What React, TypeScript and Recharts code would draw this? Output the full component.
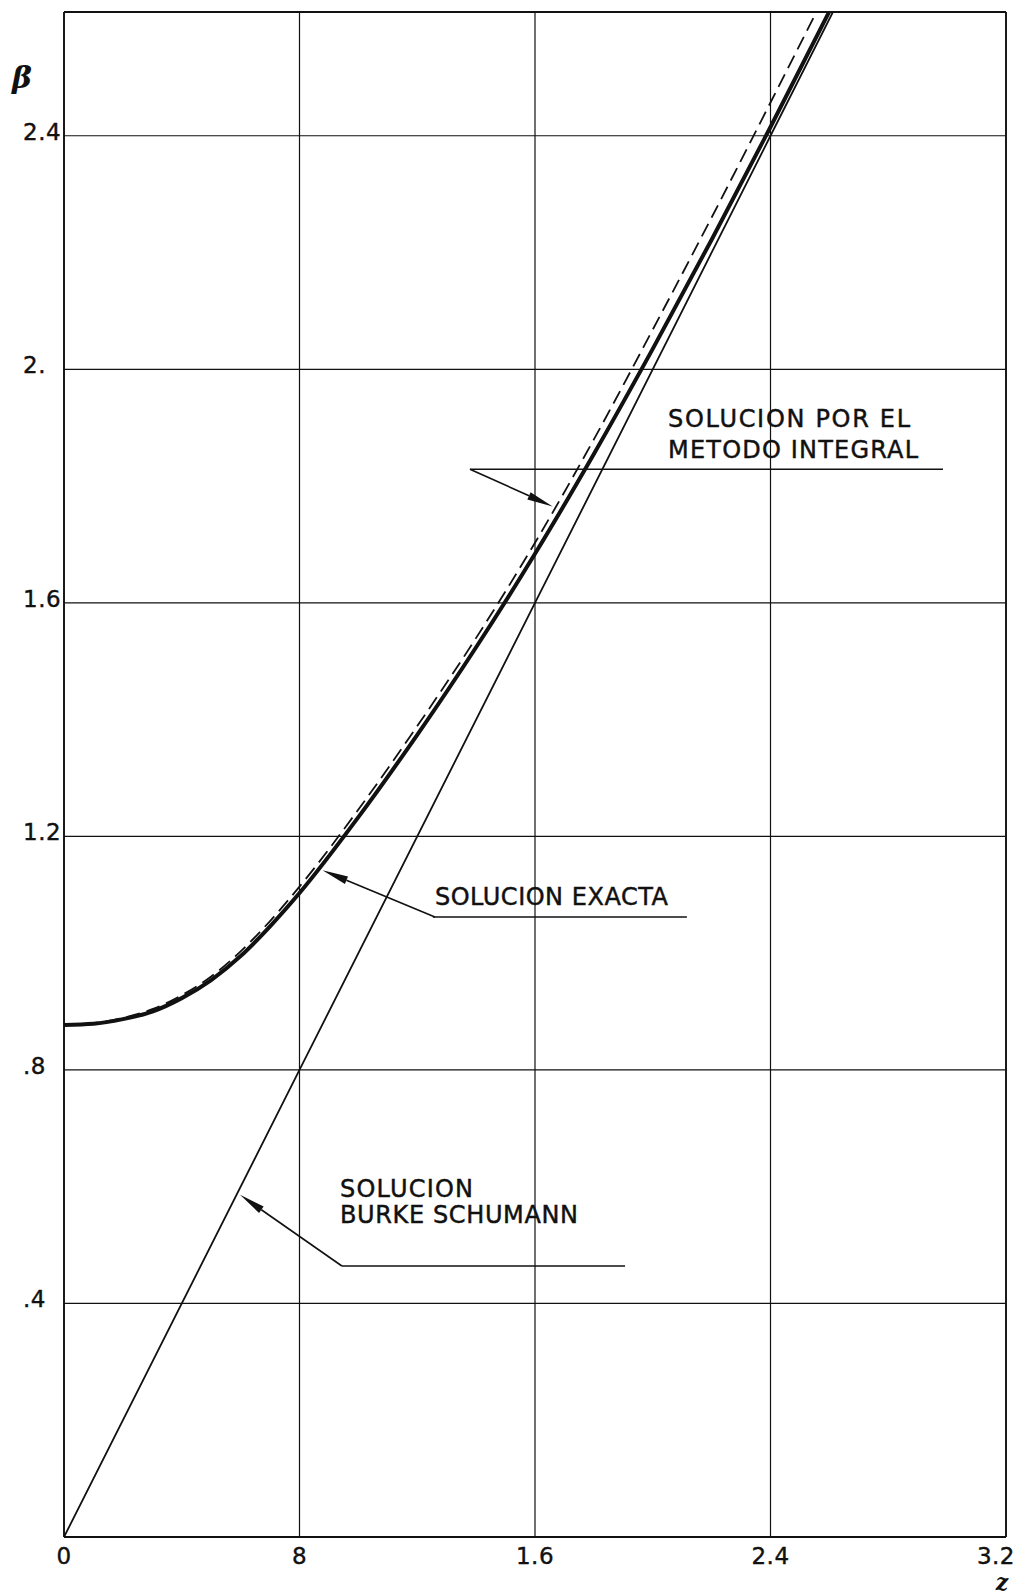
import React from 'react';
import {
  LineChart,
  Line,
  XAxis,
  YAxis,
  CartesianGrid,
  ReferenceLine,
  ReferenceDot,
} from 'recharts';

// ---- axis ticks ----
const xTicks = [0, 0.8, 1.6, 2.4, 3.2];
const xTickLabels = ['0', '8', '1.6', '2.4', '3.2'];
const yTicks = [0.4, 0.8, 1.2, 1.6, 2.0, 2.4];
const yTickLabels = ['.4', '.8', '1.2', '1.6', '2.', '2.4'];
const Z_MAX = 3.2;
const BETA_MAX = 2.612;

// ---- series: SOLUCION EXACTA (thick) ----
const exactZ = [0, 0.1, 0.2, 0.3, 0.4, 0.5, 0.6, 0.7, 0.8, 1.0, 1.2, 1.4, 1.6, 1.8, 2.0, 2.2, 2.4, 2.6];
const exactBeta = [0.877, 0.879, 0.887, 0.9, 0.923, 0.954, 0.995, 1.046, 1.103, 1.233, 1.374, 1.524, 1.684, 1.855, 2.035, 2.222, 2.415, 2.613];

// ---- series: SOLUCION POR EL METODO INTEGRAL (dashed) ----
const integralZ = [0, 0.1, 0.2, 0.3, 0.4, 0.5, 0.6, 0.7, 0.8, 1.0, 1.2, 1.4, 1.6, 1.8, 2.0, 2.2, 2.4, 2.556];
const integralBeta = [0.877, 0.88, 0.889, 0.904, 0.928, 0.96, 1.003, 1.055, 1.114, 1.246, 1.389, 1.54, 1.703, 1.88, 2.068, 2.26, 2.457, 2.612];

// ---- series: SOLUCION BURKE SCHUMANN (thin) ----
const burkeZ = [0, 0.8, 1.6, 2.4, 2.612];
const burkeBeta = [0, 0.8, 1.6, 2.4, 2.612];

const toRows = (zs: number[], bs: number[]) => zs.map((z, i) => ({ z, beta: bs[i] }));
const exactData = toRows(exactZ, exactBeta);
const integralData = toRows(integralZ, integralBeta);
const burkeData = toRows(burkeZ, burkeBeta);

// ---- annotations (data coordinates) ----
const integralNote = {
  lines: ['SOLUCION POR EL', 'METODO INTEGRAL'],
  textZ: 2.052,
  textBeta: [1.901, 1.848],
  textLen: [242, 250],
  rule: [1.379, 2.986, 1.829],
  arrow: [1.379, 1.829, 1.66, 1.765],
};
const exactNote = {
  lines: ['SOLUCION EXACTA'],
  textZ: 1.26,
  textBeta: [1.0825],
  textLen: [233],
  rule: [1.253, 2.116, 1.062],
  arrow: [1.26, 1.062, 0.878, 1.142],
};
const burkeNote = {
  lines: ['SOLUCION', 'BURKE SCHUMANN'],
  textZ: 0.9375,
  textBeta: [0.5824, 0.5378],
  textLen: [133, 238],
  rule: [0.944, 1.906, 0.4642],
  arrow: [0.944, 0.4642, 0.598, 0.586],
};
const notes = [integralNote, exactNote, burkeNote];

const INK = '#111';
const FONT = '"DejaVu Sans", Verdana, sans-serif';

const XTick = (props: any) => {
  const { x, payload } = props;
  const i = xTicks.indexOf(payload.value);
  const last = i === xTicks.length - 1;
  return (
    <text
      x={last ? x + 9 : x}
      y={1556}
      textAnchor={last ? 'end' : 'middle'}
      fontFamily={FONT}
      fontSize={23}
      letterSpacing={0.5}
      fill={INK}
      stroke={INK}
      strokeWidth={0.4}
    >
      {xTickLabels[i]}
    </text>
  );
};

const YTick = (props: any) => {
  const { y, payload } = props;
  const i = yTicks.findIndex((t) => Math.abs(t - payload.value) < 1e-6);
  return (
    <text
      x={15}
      y={y + 4}
      textAnchor="start"
      fontFamily={FONT}
      fontSize={23}
      letterSpacing={0.5}
      fill={INK}
      stroke={INK}
      strokeWidth={0.4}
    >
      {yTickLabels[i]}
    </text>
  );
};

const ArrowShape = (props: any) => {
  const { x1, y1, x2, y2 } = props;
  const dx = x2 - x1;
  const dy = y2 - y1;
  const len = Math.sqrt(dx * dx + dy * dy) || 1;
  const ux = dx / len;
  const uy = dy / len;
  const L = 26;
  const W = 4;
  const bx = x2 - ux * L;
  const by = y2 - uy * L;
  const px = -uy;
  const py = ux;
  return (
    <g>
      <line x1={x1} y1={y1} x2={bx} y2={by} stroke={INK} strokeWidth={1.6} />
      <polygon
        points={`${x2},${y2} ${bx + px * W},${by + py * W} ${bx - px * W},${by - py * W}`}
        fill={INK}
      />
    </g>
  );
};

const makeTextShape = (text: string, len: number) => (props: any) => (
  <text
    x={props.cx}
    y={props.cy}
    fontFamily={FONT}
    fontSize={24}
    textLength={len}
    lengthAdjust="spacing"
    fill={INK}
    stroke={INK}
    strokeWidth={0.45}
  >
    {text}
  </text>
);

export default function App() {
  return (
    <div style={{ width: 1013, height: 1586, background: '#fff' }}>
      <LineChart
        width={1013}
        height={1586}
        margin={{ top: 4, right: 15, bottom: 0, left: 0 }}
      >
        <CartesianGrid stroke={INK} strokeWidth={1.2} horizontal vertical />
        <XAxis
          dataKey="z"
          type="number"
          domain={[0, Z_MAX]}
          ticks={xTicks}
          interval={0}
          allowDataOverflow
          height={57}
          tickLine={false}
          axisLine={{ stroke: INK, strokeWidth: 1.8 }}
          tick={<XTick />}
          label={{
            content: () => (
              <text x={994} y={1582} textAnchor="middle" fontFamily='"DejaVu Serif", serif' fontStyle="italic" fontWeight="bold" fontSize={22} fill={INK}>
                z
              </text>
            ),
          }}
        />
        <YAxis
          dataKey="beta"
          type="number"
          domain={[0, BETA_MAX]}
          ticks={yTicks}
          interval={0}
          allowDataOverflow
          width={56}
          tickLine={false}
          axisLine={{ stroke: INK, strokeWidth: 1.8 }}
          tick={<YTick />}
          label={{
            content: () => (
              <text x={4} y={80} fontFamily='"DejaVu Serif", serif' fontStyle="italic" fontWeight="bold" fontSize={30} fill={INK}>
                β
              </text>
            ),
          }}
        />
        <ReferenceLine y={BETA_MAX} stroke={INK} strokeWidth={1.8} />
        <ReferenceLine x={Z_MAX} stroke={INK} strokeWidth={1.8} />

        <Line
          data={burkeData}
          dataKey="beta"
          type="linear"
          stroke={INK}
          strokeWidth={1.8}
          dot={false}
          activeDot={false}
          isAnimationActive={false}
        />
        <Line
          data={integralData}
          dataKey="beta"
          type="monotone"
          stroke={INK}
          strokeWidth={1.8}
          strokeDasharray="14 7"
          dot={false}
          activeDot={false}
          isAnimationActive={false}
        />
        <Line
          data={exactData}
          dataKey="beta"
          type="monotone"
          stroke={INK}
          strokeWidth={4}
          dot={false}
          activeDot={false}
          isAnimationActive={false}
        />

        {notes.map((n, k) => (
          <ReferenceLine
            key={`rule-${k}`}
            segment={[
              { x: n.rule[0], y: n.rule[2] },
              { x: n.rule[1], y: n.rule[2] },
            ]}
            stroke={INK}
            strokeWidth={1.5}
          />
        ))}
        {notes.map((n, k) => (
          <ReferenceLine
            key={`arrow-${k}`}
            segment={[
              { x: n.arrow[0], y: n.arrow[1] },
              { x: n.arrow[2], y: n.arrow[3] },
            ]}
            shape={<ArrowShape />}
          />
        ))}
        {notes.flatMap((n, k) =>
          n.lines.map((t, j) => (
            <ReferenceDot
              key={`txt-${k}-${j}`}
              x={n.textZ}
              y={n.textBeta[j]}
              r={0}
              shape={makeTextShape(t, n.textLen[j])}
            />
          ))
        )}
      </LineChart>
    </div>
  );
}
